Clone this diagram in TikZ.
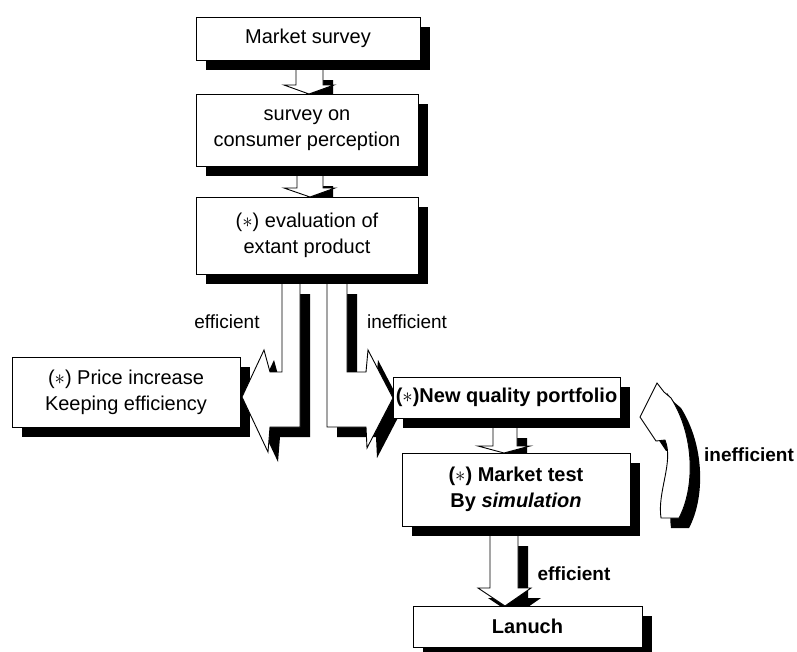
\documentclass[tikz,border=0pt]{standalone}
\usepackage{fontspec}
\setmainfont{Liberation Sans}
\pgfdeclarelayer{bg}
\pgfdeclarelayer{shad}
\pgfsetlayers{bg,shad,main}
\newcommand\st{$\ast$}
\tikzset{
  box/.style={draw=black, line width=0.9pt, fill=white, inner sep=0pt, align=center,
    font=\fontsize{20}{26}\selectfont},
  bbox/.style={box, font=\fontsize{20}{26}\selectfont\bfseries},
  barrow/.style={fill=white, draw=black, line width=0.9pt, line join=miter},
  shadowed/.style={fill=black, shift={(10,10)}},
  lbl/.style={inner sep=0pt, font=\fontsize{19}{23}\selectfont},
  blbl/.style={lbl, font=\fontsize{19}{23}\selectfont\bfseries},
}
% block-arrow outlines (open at the tail)
\newcommand\arrowA[1]{\path[#1] (296,70) -- (296,85) -- (284,85) -- (309,94) -- (334,85) -- (323,85) -- (323,70);}
\newcommand\arrowB[1]{\path[#1] (297,176) -- (297,188) -- (284,188) -- (310,197) -- (335,188) -- (323,188) -- (323,176);}
\newcommand\arrowC[1]{\path[#1] (493,428) -- (493,446) -- (478,446) -- (504,453) -- (530,446) -- (517,446) -- (517,428);}
\newcommand\arrowD[1]{\path[#1] (490,536) -- (490,588) -- (478,588) -- (505,606) -- (531,588) -- (518,588) -- (518,536);}
\newcommand\arrowL[1]{\path[#1] (282,284) -- (282,372) -- (270,372) -- (264,350) -- (242,397) -- (268,452) -- (270,427) -- (300,427) -- (300,284);}
\newcommand\arrowR[1]{\path[#1] (327,284) -- (327,427) -- (366,427) -- (367,448) -- (393,398) -- (368,350) -- (366,372) -- (347,372) -- (347,284);}
\newcommand\arrowU[1]{\path[#1] (661,518) -- (679,518) .. controls (695,488) and (695,436) .. (671,398) -- (664,392) -- (657,383) -- (640,417) -- (656,441) -- (665,440) .. controls (674,462) and (657,492) .. cycle;}
\begin{document}
\begin{tikzpicture}[x=1pt, y=-1pt]
\useasboundingbox (0,0) rectangle (797,651);
\begin{pgfonlayer}{bg}
  \fill[white] (0,0) rectangle (797,651);
\end{pgfonlayer}

% boxes
\node[box, minimum width=224pt, minimum height=43pt] (ms) at (308,38.5) {Market survey};
\node[box, minimum width=222pt, minimum height=72pt] (sp) at (307,130) {survey on\\consumer perception};
\node[box, minimum width=222pt, minimum height=77pt] (ev) at (307,235.5) {(\st) evaluation of\\extant product};
\node[box, minimum width=228pt, minimum height=70pt] (pi) at (126,392) {(\st) Price increase\\Keeping efficiency};
\node[bbox, minimum width=227pt, minimum height=41pt] (nq) at (506.5,397.5) {(\st)New quality portfolio};
\node[bbox, minimum width=228pt, minimum height=73pt] (mt) at (516,489.5) {(\st) Market test\\By \textit{simulation}};
\node[bbox, minimum width=229pt, minimum height=41pt] (la) at (527.5,626.5) {Lanuch};

% shadows
\begin{pgfonlayer}{shad}
  \foreach \n in {ms,sp,ev,pi,nq,mt,la}
    \fill[black] ([shift={(10,10)}]\n.north west) rectangle ([shift={(10,10)}]\n.south east);
  \arrowA{shadowed}
  \arrowB{shadowed}
  \arrowC{shadowed}
  \arrowD{shadowed}
  \arrowL{shadowed}
  \arrowR{shadowed}
  \arrowU{shadowed}
\end{pgfonlayer}

% block arrows
\arrowA{barrow}
\arrowB{barrow}
\arrowC{barrow}
\arrowD{barrow}
\arrowL{barrow}
\arrowR{barrow}
\arrowU{barrow}

% labels
\node[lbl] (e1) at (227,322) {efficient};
\node[lbl] (i1) at (407,322) {inefficient};
\node[blbl] (i2) at (749,455) {inefficient};
\node[blbl] (e2) at (574,574) {efficient};
\end{tikzpicture}
\end{document}
